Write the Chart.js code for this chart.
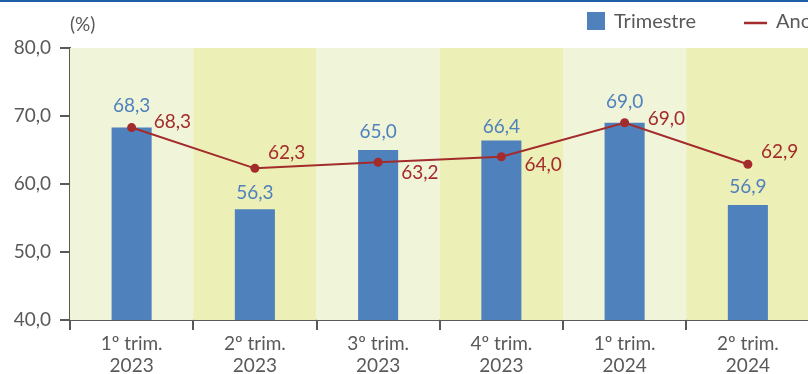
<!DOCTYPE html>
<html>
<head>
<meta charset="utf-8">
<script src="https://cdn.jsdelivr.net/npm/chart.js@4/dist/chart.umd.min.js"></script>
<style>
html,body{margin:0;padding:0;background:#fff;overflow:hidden;}
#wrap{position:relative;width:808px;height:374px;overflow:hidden;}
</style>
</head>
<body>
<div id="wrap"><canvas id="c" width="814" height="374"></canvas></div>
<script>
const categories = [['1º trim.','2023'],['2º trim.','2023'],['3º trim.','2023'],['4º trim.','2023'],['1º trim.','2024'],['2º trim.','2024']];
const trimestre = [68.3, 56.3, 65.0, 66.4, 69.0, 56.9];
const anoMovel = [68.3, 62.3, 63.2, 64.0, 69.0, 62.9];
const yTickValues = [40, 50, 60, 70, 80];
const seriesNames = ['Trimestre', 'Ano móvel'];
const unitLabel = '(%)';

const FONT = 'Lato, "Open Sans", sans-serif';
const GRAY = '#595959';
const BLUE = '#4f81bd';
const RED = '#a32b2b';
const BAND = ['#f0f4d8', '#ecefb6'];
const barLabelDy = [-22, -16, -18, -13.5, -21, -18.5];
const lineLabelOff = [[22,-6],[13,-15],[23,11],[23,8],[23,-4],[13,-12.5]];
const fmt = v => v.toFixed(1).replace('.', ',');

const decor = {
  id: 'decor',
  beforeDatasetsDraw(chart) {
    const {ctx, chartArea: a, scales: {x}} = chart;
    const w = x.getPixelForValue(1) - x.getPixelForValue(0);
    ctx.save();
    for (let i = 0; i < categories.length; i++) {
      const cx = x.getPixelForValue(i);
      ctx.fillStyle = BAND[i % 2];
      ctx.fillRect(cx - w/2, a.top, w, a.bottom - a.top);
    }
    ctx.restore();
  },
  afterDatasetsDraw(chart) {
    const {ctx} = chart;
    ctx.save();
    ctx.font = '19px ' + FONT;
    ctx.textBaseline = 'middle';
    const bars = chart.getDatasetMeta(1).data;
    ctx.fillStyle = BLUE;
    ctx.textAlign = 'center';
    bars.forEach((b, i) => ctx.fillText(fmt(trimestre[i]), b.x, b.y + barLabelDy[i]));
    const pts = chart.getDatasetMeta(0).data;
    ctx.fillStyle = RED;
    ctx.textAlign = 'left';
    pts.forEach((p, i) => ctx.fillText(fmt(anoMovel[i]), p.x + lineLabelOff[i][0], p.y + lineLabelOff[i][1]));
    ctx.restore();
  },
  afterDraw(chart) {
    const {ctx} = chart;
    ctx.save();
    ctx.fillStyle = '#1f5fa8';
    ctx.fillRect(0, 0, 814, 2);
    ctx.font = '19px ' + FONT;
    ctx.textBaseline = 'middle';
    ctx.textAlign = 'left';
    ctx.fillStyle = GRAY;
    ctx.fillText(unitLabel, 70, 25);
    ctx.fillStyle = BLUE;
    ctx.fillRect(587, 12, 18, 18);
    ctx.font = '20px ' + FONT;
    ctx.fillStyle = GRAY;
    ctx.fillText(seriesNames[0], 614, 22);
    ctx.strokeStyle = RED;
    ctx.lineWidth = 2.5;
    ctx.beginPath(); ctx.moveTo(744, 23); ctx.lineTo(767, 23); ctx.stroke();
    ctx.fillStyle = GRAY;
    ctx.fillText(seriesNames[1], 776, 22);
    ctx.restore();
  }
};

new Chart(document.getElementById('c'), {
  data: {
    labels: categories,
    datasets: [
      { type: 'line', label: seriesNames[1], data: anoMovel, borderColor: RED, backgroundColor: RED,
        borderWidth: 2, pointRadius: 4.5, pointBackgroundColor: RED, pointBorderWidth: 0, order: 1, tension: 0 },
      { type: 'bar', label: seriesNames[0], data: trimestre, backgroundColor: BLUE,
        categoryPercentage: 1, barPercentage: 0.325, order: 2 }
    ]
  },
  options: {
    responsive: false,
    animation: false,
    layout: { padding: { top: 48, right: 0, left: 0, bottom: 0 } },
    plugins: { legend: { display: false }, tooltip: { enabled: false } },
    scales: {
      x: {
        offset: true,
        grid: { offset: true, drawOnChartArea: false, drawTicks: true, tickLength: 10, color: GRAY, lineWidth: 2 },
        border: { display: true, color: GRAY, width: 2 },
        ticks: { color: GRAY, font: { family: FONT, size: 19 }, padding: 2, maxRotation: 0, autoSkip: false },
        afterFit(s) { s.height = 54; }
      },
      y: {
        min: 40, max: 80,
        afterBuildTicks(s) { s.ticks = yTickValues.map(v => ({ value: v })); },
        grid: { drawOnChartArea: false, drawTicks: true, tickLength: 10, color: GRAY, lineWidth: 2 },
        border: { display: true, color: GRAY, width: 2 },
        ticks: { color: GRAY, font: { family: FONT, size: 19 }, padding: 9, callback: v => fmt(v) },
        afterFit(s) { s.width = 70; }
      }
    }
  },
  plugins: [decor]
});
</script>
</body>
</html>
